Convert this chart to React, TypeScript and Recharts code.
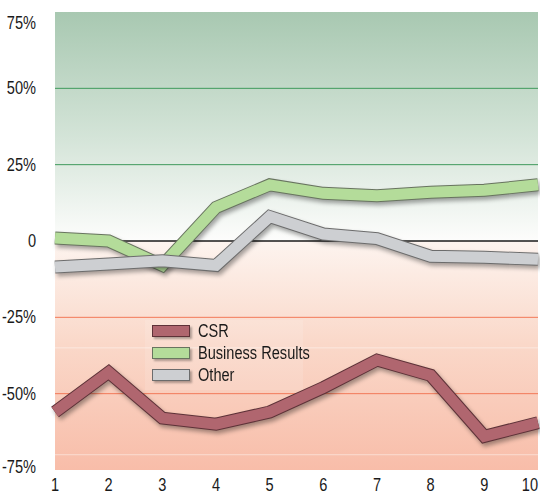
import React from "react";
import { LineChart, Line, XAxis, YAxis, ReferenceArea, ReferenceLine } from "recharts";

const periods = ["1", "2", "3", "4", "5", "6", "7", "8", "9", "10"];
const csr = [-56, -43, -58, -60, -56, -48, -39, -44, -64, -59.5];
const businessResults = [1, 0, -8, 11, 18.4, 15.6, 14.8, 16, 16.6, 18.4];
const other = [-8.5, -7.5, -6.5, -8, 8, 2.3, 0.8, -5, -5.3, -6];
const yTicks = [-75, -50, -25, 0, 25, 50, 75];

const data = periods.map((p, i) => ({
    period: p,
    csr: csr[i],
    business: businessResults[i],
    other: other[i],
}));

const FONT = "'Liberation Sans', Arial, sans-serif";
const SQUEEZE = 0.81;

const series = [
    { key: "business", name: "Business Results", fill: "#b4dc9a", edge: "#68745f" },
    { key: "other", name: "Other", fill: "#cdcfd2", edge: "#6c6c6c" },
    { key: "csr", name: "CSR", fill: "#b0666f", edge: "#5e3238" },
];
const legendOrder = ["csr", "business", "other"];

const YTick = (props: any) => {
    const { x, y, payload } = props;
    const v = payload.value;
    const dy = v === 75 ? 17 : v === -75 ? 3 : 6;
    return (
        <text transform={`translate(${x - 11},${y + dy}) scale(${SQUEEZE},1)`} textAnchor="end" fontSize={18} fill="#1a1a1a" fontFamily={FONT}>
            {v === 0 ? "0" : `${v}%`}
        </text>
    );
};

const XTick = (props: any) => {
    const { x, payload } = props;
    const last = payload.value === "10";
    return (
        <text transform={`translate(${last ? x : x},491) scale(${SQUEEZE},1)`} textAnchor={last ? "end" : "middle"} fontSize={18} fill="#1a1a1a" fontFamily={FONT}>
            {payload.value}
        </text>
    );
};

const LegendBox = () => (
    <div style={{ position: "absolute", left: 145, top: 320, padding: "0 10px 4px 7px", background: "rgba(255,255,255,0.12)", fontFamily: FONT }}>
        {legendOrder.map((k) => {
            const s = series.find((x) => x.key === k)!;
            return (
                <div key={k} style={{ display: "flex", alignItems: "center", height: 22 }}>
                    <div style={{ width: 36, height: 10, background: s.fill, border: `1px solid ${s.edge}`, boxShadow: "2px 2px 2px rgba(0,0,0,0.3)", marginRight: 8, flexShrink: 0 }} />
                    <span style={{ fontSize: 18, color: "#1a1a1a", display: "inline-block", transform: `scaleX(${SQUEEZE})`, transformOrigin: "left center", whiteSpace: "nowrap", width: 95 }}>{s.name}</span>
                </div>
            );
        })}
    </div>
);

export default function App() {
    return (
        <div style={{ position: "absolute", left: 0, top: 0, width: 540, height: 494, background: "#fff" }}>
            <style>{`.ribbon-edge .recharts-curve { filter: drop-shadow(2px 3px 2px rgba(0,0,0,0.35)); }`}</style>
            <LineChart width={540} height={494} data={data} margin={{ top: 12, right: 2, left: 0, bottom: 0 }}>
                <defs>
                    <linearGradient id="gPos" x1="0" y1="0" x2="0" y2="1">
                        <stop offset="0%" stopColor="#a8c8b1" />
                        <stop offset="55%" stopColor="#d4e4d8" />
                        <stop offset="100%" stopColor="#fdfdfc" />
                    </linearGradient>
                    <linearGradient id="gNeg" x1="0" y1="0" x2="0" y2="1">
                        <stop offset="0%" stopColor="#fdf4ef" />
                        <stop offset="45%" stopColor="#fad8c9" />
                        <stop offset="100%" stopColor="#f8bda9" />
                    </linearGradient>
                </defs>
                <ReferenceArea y1={0} y2={75} fill="url(#gPos)" fillOpacity={1} stroke="none" />
                <ReferenceArea y1={-75} y2={0} fill="url(#gNeg)" fillOpacity={1} stroke="none" />
                <ReferenceLine y={50} stroke="#3f9a5c" strokeWidth={1} />
                <ReferenceLine y={25} stroke="#3f9a5c" strokeWidth={1} />
                <ReferenceLine y={-25} stroke="#f27a58" strokeWidth={1} />
                <ReferenceLine y={-50} stroke="#f27a58" strokeWidth={1} />
                <ReferenceLine y={-35} stroke="#ffffff" strokeOpacity={0.45} strokeWidth={1} />
                <ReferenceLine y={-70} stroke="#ffffff" strokeOpacity={0.45} strokeWidth={1} />
                <ReferenceLine y={0} stroke="#1a1a1a" strokeWidth={1.5} />
                <XAxis dataKey="period" axisLine={false} tickLine={false} height={24} padding={{ left: 0, right: 0 }} tick={<XTick />} interval={0} />
                <YAxis domain={[-75, 75]} ticks={yTicks} axisLine={false} tickLine={false} width={55} tick={<YTick />} />
                {series.flatMap((s) => [
                    <Line
                        key={s.key + "-edge"}
                        className="ribbon-edge"
                        dataKey={s.key}
                        stroke={s.edge}
                        strokeWidth={13}
                        strokeLinejoin="miter"
                        dot={false}
                        activeDot={false}
                        legendType="none"
                        isAnimationActive={false}
                    />,
                    <Line
                        key={s.key}
                        dataKey={s.key}
                        name={s.name}
                        stroke={s.fill}
                        strokeWidth={11}
                        strokeLinejoin="miter"
                        dot={false}
                        activeDot={false}
                        isAnimationActive={false}
                    />,
                ])}
            </LineChart>
            <LegendBox />
        </div>
    );
}
